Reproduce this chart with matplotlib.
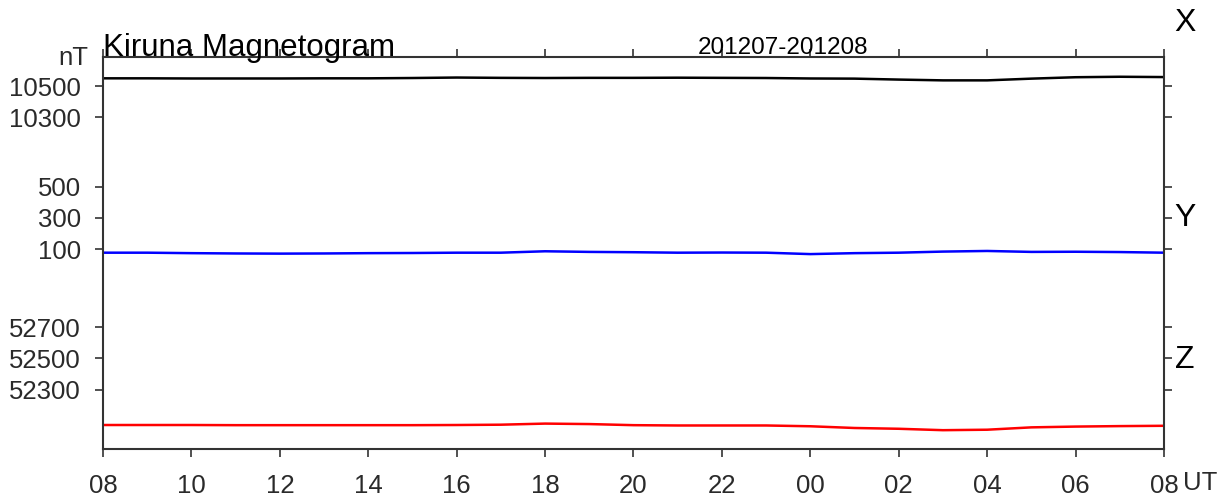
import matplotlib
matplotlib.use("Agg")
import matplotlib.pyplot as plt
import numpy as np

plt.rcParams['font.family'] = ['Liberation Sans', 'DejaVu Sans']

# hours since 08 UT
hours = list(range(0, 25))
x_labels = ["08", "10", "12", "14", "16", "18", "20", "22", "00", "02", "04", "06", "08"]

# component values (nT), read hourly
X_nT = [10549, 10549, 10548, 10548, 10548, 10549, 10549, 10551, 10554, 10552, 10551, 10552, 10552,
        10553, 10552, 10551, 10548, 10547, 10541, 10536, 10536, 10547, 10556, 10559, 10557]
Y_nT = [78, 78, 75, 73, 72, 73, 75, 76, 78, 78, 87, 83, 81,
        78, 79, 78, 69, 75, 78, 85, 89, 83, 84, 82, 78]
Z_nT = [52075, 52075, 52075, 52074, 52074, 52074, 52074, 52074, 52075, 52077, 52084, 52081, 52074,
        52072, 52072, 52072, 52067, 52056, 52051, 52042, 52045, 52060, 52065, 52068, 52070]

X_ticks = [10500, 10300]
Y_ticks = [500, 300, 100]
Z_ticks = [52700, 52500, 52300]

# offsets that place each component in its band of the shared axis (nT units)
X_ref, X_pos = 10500, 2315
Y_ref, Y_pos = 100, 1274
Z_ref, Z_pos = 52500, 578

def place(vals, ref, pos):
    return [v - ref + pos for v in vals]

W, H = 1220, 497
fig = plt.figure(figsize=(W / 100, H / 100), dpi=100)
ax = fig.add_axes([103 / W, 1 - 449 / H, (1164 - 103) / W, (449 - 57) / H])

ax.plot(hours, place(X_nT, X_ref, X_pos), color='black', lw=1.8)
ax.plot(hours, place(Y_nT, Y_ref, Y_pos), color='#0000ff', lw=1.8)
ax.plot(hours, place(Z_nT, Z_ref, Z_pos), color='#ff0000', lw=1.8)

ax.set_xlim(0, 24)
ax.set_ylim(0, 2500)

tick_pos = place(X_ticks, X_ref, X_pos) + place(Y_ticks, Y_ref, Y_pos) + place(Z_ticks, Z_ref, Z_pos)
tick_lab = [str(v) for v in X_ticks + Y_ticks + Z_ticks]
ax.set_yticks(tick_pos)
ax.set_yticklabels(tick_lab)
ax.set_xticks(np.arange(0, 25, 2))
ax.set_xticklabels(x_labels)

ax.tick_params(axis='both', direction='out', length=6, width=1.2, color='#333333',
               labelsize=18.5, labelcolor='#2a2a2a')
ax.tick_params(axis='x', pad=12, top=True)
ax.tick_params(axis='y', pad=10, right=True)
for s in ax.spines.values():
    s.set_color('#333333')
    s.set_linewidth(1.5)

def ftext(px, py, s, **kw):
    fig.text(px / W, 1 - py / H, s, **kw)

ftext(103, 56, "Kiruna Magnetogram", fontsize=22.5, ha='left', va='baseline', color='black')
ftext(783, 54, "201207-201208", fontsize=17.5, ha='center', va='baseline', color='black')
ftext(88, 58, "nT", fontsize=18.5, ha='right', va='center', color='#2a2a2a')
ftext(1183, 483, "UT", fontsize=18.5, ha='left', va='center', color='#2a2a2a')
ftext(1185, 23, "X", fontsize=23, ha='center', va='center', color='black')
ftext(1185, 218, "Y", fontsize=23, ha='center', va='center', color='black')
ftext(1185, 360, "Z", fontsize=23, ha='center', va='center', color='black')

fig.savefig("out.png", dpi=100)
